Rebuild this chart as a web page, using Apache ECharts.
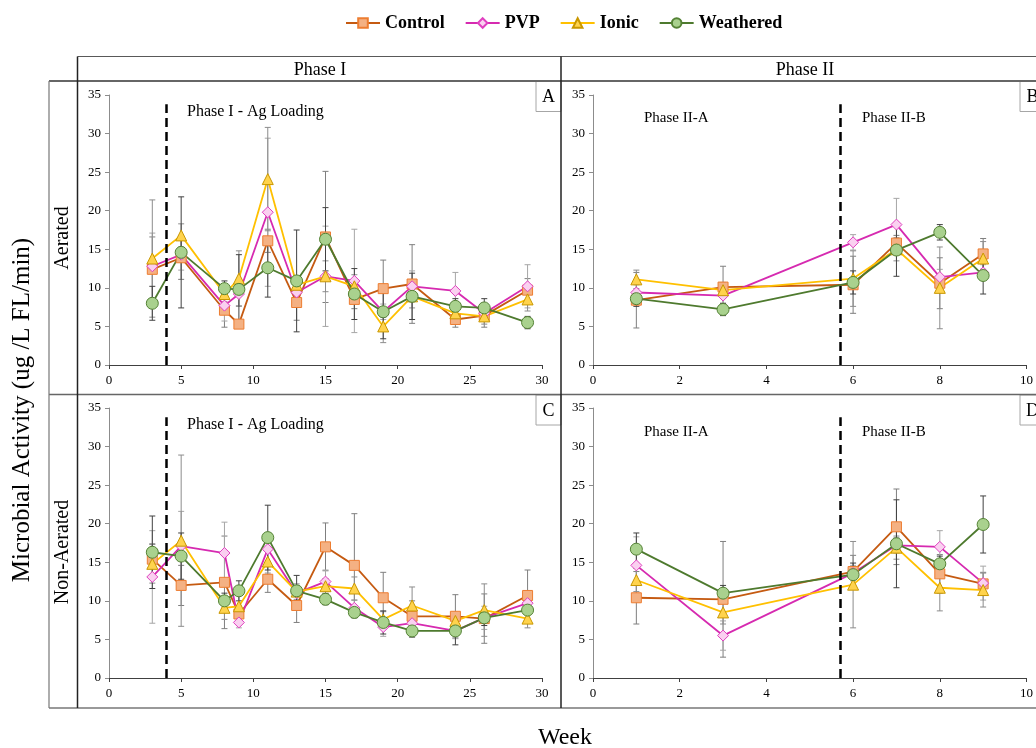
<!DOCTYPE html>
<html>
<head>
<meta charset="utf-8">
<script src="https://cdn.jsdelivr.net/npm/echarts@6/dist/echarts.min.js"></script>
<style>
  html, body { margin: 0; padding: 0; background: #fff; }
  #chart { width: 1036px; height: 748px; }
</style>
</head>
<body>
<div id="chart"></div>
<script>
// Sampling weeks
const weeksPhase1 = [3, 5, 8, 9, 11, 13, 15, 17, 19, 21, 24, 26, 29];
const weeksPhase2 = [1, 3, 6, 7, 8, 9];
const seriesNames = ['Control', 'PVP', 'Ionic', 'Weathered'];

// Aerated, Phase I (mean, sd)
const aerP1Control = [12.4, 13.9, 7.1, 5.3, 16.1, 8.1, 16.6, 8.5, 9.9, 10.5, 5.9, 6.4, 9.7];
const aerP1PVP = [12.8, 14.3, 7.7, 9.2, 19.8, 9.4, 11.5, 10.9, 6.9, 10.2, 9.6, 6.7, 10.2];
const aerP1Ionic = [13.8, 16.8, 9.2, 11.2, 24.1, 10.4, 11.5, 10.2, 5.0, 8.9, 6.7, 6.3, 8.5];
const aerP1Weathered = [8.0, 14.6, 9.9, 9.8, 12.6, 10.9, 16.3, 9.2, 6.9, 8.9, 7.6, 7.4, 5.5];
const aerP1ControlSd = [4.2, 2.8, 2.2, 0.5, 1.5, 2.3, 8.5, 1.2, 3.7, 5.1, 1.0, 1.5, 1.5];
const aerP1PVPSd = [4.3, 2.0, 2.0, 1.5, 9.6, 1.2, 6.5, 6.7, 1.0, 2.0, 2.4, 1.0, 2.8];
const aerP1IonicSd = [7.6, 1.5, 1.0, 3.6, 6.7, 1.0, 2.0, 1.5, 2.1, 1.5, 1.0, 1.0, 1.5];
const aerP1WeatheredSd = [2.2, 7.2, 1.0, 4.5, 3.8, 6.6, 4.1, 3.3, 3.5, 3.0, 1.0, 1.2, 0.8];

// Aerated, Phase II
const aerP2Control = [8.4, 10.1, 10.4, 15.8, 10.6, 14.4];
const aerP2PVP = [9.4, 9.0, 15.9, 18.2, 11.4, 12.0];
const aerP2Ionic = [11.1, 9.7, 11.2, 15.0, 10.0, 13.8];
const aerP2Weathered = [8.6, 7.2, 10.7, 14.9, 17.2, 11.6];
const aerP2ControlSd = [3.6, 2.7, 3.7, 1.0, 3.3, 2.0];
const aerP2PVPSd = [1.0, 1.0, 1.0, 3.4, 1.0, 1.0];
const aerP2IonicSd = [1.2, 1.0, 3.6, 1.5, 5.3, 2.2];
const aerP2WeatheredSd = [1.0, 0.8, 1.5, 3.4, 1.0, 2.4];

// Non-aerated, Phase I
const nonP1Control = [15.4, 12.0, 12.4, 8.3, 12.8, 9.4, 17.0, 14.6, 10.4, 8.0, 8.0, 7.7, 10.7];
const nonP1PVP = [13.1, 17.1, 16.2, 7.2, 16.7, 11.0, 12.5, 9.1, 6.6, 7.1, 6.1, 7.8, 9.7];
const nonP1Ionic = [14.8, 17.8, 9.1, 9.3, 15.1, 11.2, 11.9, 11.6, 7.6, 9.4, 7.4, 8.8, 7.7];
const nonP1Weathered = [16.3, 15.8, 10.0, 11.3, 18.2, 11.3, 10.2, 8.5, 7.2, 6.1, 6.1, 7.8, 8.8];
const nonP1ControlSd = [2.0, 2.6, 6.0, 1.0, 1.7, 2.2, 3.1, 6.7, 3.3, 2.0, 2.8, 3.2, 3.3];
const nonP1PVPSd = [6.0, 4.5, 4.0, 0.7, 2.0, 1.0, 1.5, 1.0, 1.2, 1.0, 1.0, 1.5, 1.0];
const nonP1IonicSd = [2.5, 11.1, 1.5, 1.5, 1.5, 1.0, 1.0, 1.5, 1.0, 2.4, 1.0, 3.4, 1.2];
const nonP1WeatheredSd = [4.7, 3.0, 1.0, 1.3, 4.2, 2.0, 0.7, 0.7, 1.5, 0.8, 1.8, 1.0, 1.5];

// Non-aerated, Phase II
const nonP2Control = [10.4, 10.2, 13.8, 19.6, 13.5, 12.2];
const nonP2PVP = [14.6, 5.5, 13.6, 17.2, 17.0, 12.3];
const nonP2Ionic = [12.7, 8.5, 12.1, 16.9, 11.7, 11.4];
const nonP2Weathered = [16.7, 11.0, 13.4, 17.4, 14.8, 19.9];
const nonP2ControlSd = [3.4, 7.5, 2.1, 4.9, 2.5, 1.5];
const nonP2PVPSd = [3.7, 1.9, 1.0, 1.0, 2.1, 2.2];
const nonP2IonicSd = [1.5, 1.5, 5.6, 1.5, 3.0, 2.2];
const nonP2WeatheredSd = [2.1, 1.0, 1.5, 5.7, 1.0, 3.7];

// Tick settings and phase boundaries
const yTicks = { min: 0, max: 35, interval: 5 };
const xTicksPhase1 = { min: 0, max: 30, interval: 5 };
const xTicksPhase2 = { min: 0, max: 10, interval: 2 };
const phase1Boundary = 4;
const phase2Boundary = 5.7;
const boundaryTop = 33.8;

const SERIF = '"Liberation Serif", "DejaVu Serif", serif';

const styles = {
  Control:   { symbol: 'rect',     size: 10, line: '#C55A11', fill: '#F4B183', border: '#ED7D31', err: '#7f7f7f' },
  PVP:       { symbol: 'diamond',  size: 11, line: '#D62AB0', fill: '#FAD0F0', border: '#E040C0', err: '#a6a6a6' },
  Ionic:     { symbol: 'triangle', size: 11, line: '#FFC000', fill: '#FFD34D', border: '#C99700', err: '#8c8c8c' },
  Weathered: { symbol: 'circle',   size: 12, line: '#4E7A2E', fill: '#A9D18E', border: '#548235', err: '#404040' }
};

const panels = [
  { weeks: weeksPhase1, x: xTicksPhase1, boundary: phase1Boundary,
    means: [aerP1Control, aerP1PVP, aerP1Ionic, aerP1Weathered],
    sds: [aerP1ControlSd, aerP1PVPSd, aerP1IonicSd, aerP1WeatheredSd],
    grid: { left: 109, top: 95, width: 433, height: 270 } },
  { weeks: weeksPhase2, x: xTicksPhase2, boundary: phase2Boundary,
    means: [aerP2Control, aerP2PVP, aerP2Ionic, aerP2Weathered],
    sds: [aerP2ControlSd, aerP2PVPSd, aerP2IonicSd, aerP2WeatheredSd],
    grid: { left: 593, top: 95, width: 434, height: 270 } },
  { weeks: weeksPhase1, x: xTicksPhase1, boundary: phase1Boundary,
    means: [nonP1Control, nonP1PVP, nonP1Ionic, nonP1Weathered],
    sds: [nonP1ControlSd, nonP1PVPSd, nonP1IonicSd, nonP1WeatheredSd],
    grid: { left: 109, top: 408, width: 433, height: 270 } },
  { weeks: weeksPhase2, x: xTicksPhase2, boundary: phase2Boundary,
    means: [nonP2Control, nonP2PVP, nonP2Ionic, nonP2Weathered],
    sds: [nonP2ControlSd, nonP2PVPSd, nonP2IonicSd, nonP2WeatheredSd],
    grid: { left: 593, top: 408, width: 434, height: 270 } }
];

function errorBarRenderer(color) {
  return function (params, api) {
    const x = api.value(0);
    const lo = api.coord([x, api.value(1)]);
    const hi = api.coord([x, api.value(2)]);
    const cap = 3;
    const st = { stroke: color, lineWidth: 1 };
    return {
      type: 'group',
      children: [
        { type: 'line', shape: { x1: lo[0], y1: lo[1], x2: hi[0], y2: hi[1] }, style: st },
        { type: 'line', shape: { x1: lo[0] - cap, y1: lo[1], x2: lo[0] + cap, y2: lo[1] }, style: st },
        { type: 'line', shape: { x1: hi[0] - cap, y1: hi[1], x2: hi[0] + cap, y2: hi[1] }, style: st }
      ]
    };
  };
}

const grids = [], xAxes = [], yAxes = [], series = [];

panels.forEach((p, i) => {
  grids.push(p.grid);
  xAxes.push({
    type: 'value', gridIndex: i, min: p.x.min, max: p.x.max, interval: p.x.interval,
    axisLine: { show: true, onZero: false, lineStyle: { color: '#404040', width: 1 } },
    axisTick: { show: true, length: 4, lineStyle: { color: '#404040' } },
    axisLabel: { color: '#000', fontFamily: SERIF, fontSize: 13, margin: 9 },
    splitLine: { show: false }
  });
  yAxes.push({
    type: 'value', gridIndex: i, min: yTicks.min, max: yTicks.max, interval: yTicks.interval,
    axisLine: { show: true, lineStyle: { color: '#8c8c8c', width: 1 } },
    axisTick: { show: true, length: 4, lineStyle: { color: '#8c8c8c' } },
    axisLabel: { color: '#000', fontFamily: SERIF, fontSize: 13, margin: 8 },
    splitLine: { show: false }
  });

  seriesNames.forEach((name, k) => {
    const s = styles[name];
    const mean = p.means[k], sd = p.sds[k];
    series.push({
      type: 'custom', name: name + ' error', xAxisIndex: i, yAxisIndex: i, z: 1,
      renderItem: errorBarRenderer(s.err),
      data: p.weeks.map((w, j) => [w, mean[j] - sd[j], mean[j] + sd[j]]),
      silent: true
    });
  });

  seriesNames.forEach((name, k) => {
    const s = styles[name];
    const line = {
      type: 'line', name: name, xAxisIndex: i, yAxisIndex: i, z: 3,
      symbol: s.symbol, symbolSize: s.size,
      showAllSymbol: true,
      lineStyle: { color: s.line, width: 1.8 },
      itemStyle: { color: s.fill, borderColor: s.border, borderWidth: 1 },
      data: p.weeks.map((w, j) => [w, p.means[k][j]])
    };
    if (k === 0) {
      line.markLine = {
        silent: true, symbol: ['none', 'none'], label: { show: false },
        lineStyle: { color: '#000', width: 2.5, type: [9, 5] },
        data: [[{ coord: [p.boundary, 0] }, { coord: [p.boundary, boundaryTop] }]]
      };
    }
    series.push(line);
  });
});

// Frame lines and captions around the panel grid
const frame = '#595959';
function hline(x1, x2, y, w, c) {
  return { type: 'line', shape: { x1, y1: y, x2, y2: y }, style: { stroke: c || frame, lineWidth: w || 1 }, z: 10 };
}
function vline(x, y1, y2, w, c) {
  return { type: 'line', shape: { x1: x, y1, x2: x, y2 }, style: { stroke: c || frame, lineWidth: w || 1 }, z: 10 };
}
function txt(x, y, text, size, opts) {
  return Object.assign({
    type: 'text', x, y, z: 10,
    style: Object.assign({ text, fontFamily: SERIF, fontSize: size, fill: '#000', align: 'center', verticalAlign: 'middle' }, (opts && opts.style) || {})
  }, opts && opts.rotation !== undefined ? { rotation: opts.rotation } : {});
}
function letterBox(x, y, letter) {
  return [
    { type: 'rect', shape: { x, y, width: 25, height: 30 }, style: { fill: '#fff', stroke: '#a6a6a6', lineWidth: 1 }, z: 9 },
    txt(x + 12.5, y + 16, letter, 18)
  ];
}

const graphics = [
  hline(77.5, 1036, 56.5, 1.2),
  hline(49, 1036, 81, 2, '#666'),
  hline(49, 1036, 394.5, 1.5, '#666'),
  hline(49, 1036, 708, 1.5, '#777'),
  vline(49, 81, 708, 1.2, '#777'),
  vline(77.5, 56.5, 708, 1.5, '#222'),
  vline(561, 56.5, 708, 1.5, '#222'),
  ...letterBox(536, 81.5, 'A'),
  ...letterBox(1020, 81.5, 'B'),
  ...letterBox(536, 395, 'C'),
  ...letterBox(1020, 395, 'D'),
  txt(320, 70, 'Phase I', 18),
  txt(805, 70, 'Phase II', 18),
  txt(63, 238, 'Aerated', 20, { rotation: Math.PI / 2 }),
  txt(63, 552, 'Non-Aerated', 20, { rotation: Math.PI / 2 }),
  txt(22, 410, 'Microbial Activity (ug /L FL/min)', 25, { rotation: Math.PI / 2 }),
  txt(565, 738, 'Week', 24),
  txt(187, 112, 'Phase I - Ag Loading', 16, { style: { align: 'left' } }),
  txt(187, 425, 'Phase I - Ag Loading', 16, { style: { align: 'left' } }),
  txt(644, 118, 'Phase II-A', 15, { style: { align: 'left' } }),
  txt(862, 118, 'Phase II-B', 15, { style: { align: 'left' } }),
  txt(644, 432, 'Phase II-A', 15, { style: { align: 'left' } }),
  txt(862, 432, 'Phase II-B', 15, { style: { align: 'left' } })
];

const chart = echarts.init(document.getElementById('chart'), null, { renderer: 'canvas' });
chart.setOption({
  animation: false,
  backgroundColor: '#fff',
  legend: {
    data: seriesNames,
    top: 9, left: 340,
    itemGap: 20, itemWidth: 34, itemHeight: 12,
    textStyle: { fontFamily: SERIF, fontSize: 18, fontWeight: 'bold', color: '#000' }
  },
  grid: grids,
  xAxis: xAxes,
  yAxis: yAxes,
  series: series,
  graphic: graphics
});
</script>
</body>
</html>
